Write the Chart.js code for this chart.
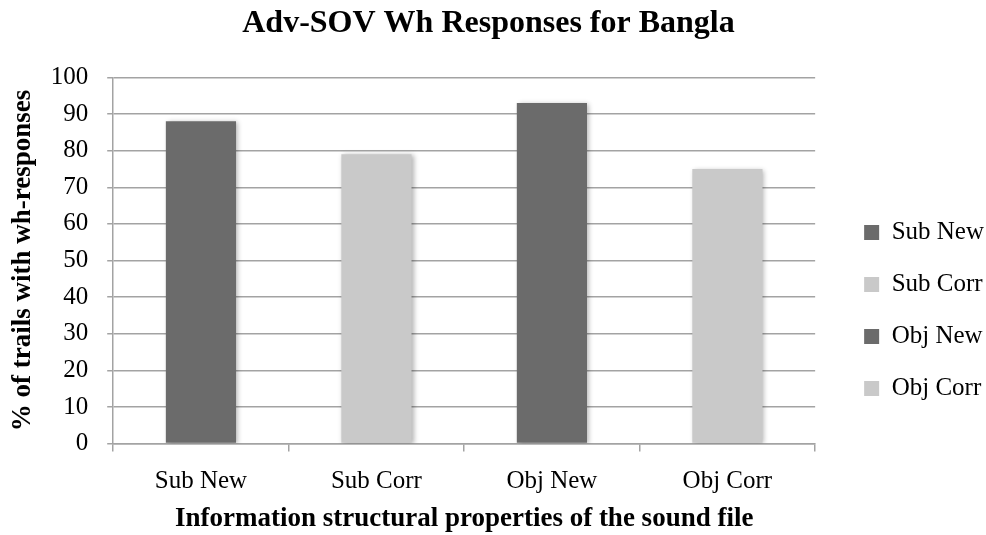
<!DOCTYPE html>
<html>
<head>
<meta charset="utf-8">
<script src="https://cdn.jsdelivr.net/npm/chart.js@4.4.1/dist/chart.umd.min.js"></script>
<style>
  html, body { margin: 0; padding: 0; background: #fff; }
  #wrap { width: 986px; height: 535px; }
</style>
</head>
<body>
<div id="wrap"><canvas id="myChart"></canvas></div>
<script>
var categories = ['Sub New', 'Sub Corr', 'Obj New', 'Obj Corr'];
var responses = [88, 79, 93, 75];
var yTicks = [0, 10, 20, 30, 40, 50, 60, 70, 80, 90, 100];

var barColors = ['#6b6b6b', '#c9c9c9', '#6b6b6b', '#c9c9c9'];
var gridColor = '#a3a3a3';
var serif = 'Liberation Serif';

// soft shadow under the bars, like the office chart
var barShadow = {
    id: 'barShadow',
    beforeDatasetsDraw: function (chart) {
        var c = chart.ctx;
        c.save();
        c.shadowColor = 'rgba(0,0,0,0.3)';
        c.shadowBlur = 5;
        c.shadowOffsetX = 2;
        c.shadowOffsetY = 1;
    },
    afterDatasetsDraw: function (chart) {
        chart.ctx.restore();
    }
};

// move the legend a bit right of the plot and lower
var legendPlace = {
    id: 'legendPlace',
    afterLayout: function (chart) {
        var lg = chart.legend;
        var area = chart.chartArea;
        var w = lg.width;
        lg.left = area.right + 22;
        lg.right = lg.left + w;
        lg.top = area.top + 50;
        lg.bottom = area.bottom + 50;
    }
};

// tick padding is counted twice by the scale fit, only keep it once
function singlePadX(scale) { scale.height -= scale.options.ticks.padding; }
function singlePadY(scale) { scale.width -= scale.options.ticks.padding; }

var ctx = document.getElementById('myChart');

var myChart = new Chart(ctx, {
    type: 'bar',
    data: {
        labels: categories,
        datasets: [{
            label: 'Adv-SOV Wh Responses for Bangla',
            data: responses,
            backgroundColor: barColors,
            borderWidth: 0,
            barPercentage: 0.4,
            categoryPercentage: 1.0
        }]
    },
    plugins: [barShadow, legendPlace],
    options: {
        responsive: true,
        maintainAspectRatio: false,
        animation: false,
        layout: { padding: { left: 5, right: 14, top: 0, bottom: 0 } },
        plugins: {
            tooltip: { enabled: false },
            title: {
                display: true,
                text: 'Adv-SOV Wh Responses for Bangla',
                color: '#000',
                font: { family: serif, size: 32, weight: 'bold' },
                padding: { top: 5, bottom: 34 }
            },
            legend: {
                display: true,
                position: 'right',
                labels: {
                    color: '#000',
                    font: { family: serif, size: 25 },
                    boxWidth: 15,
                    boxHeight: 15,
                    padding: 27,
                    generateLabels: function () {
                        return categories.map(function (c, i) {
                            return {
                                text: c,
                                fillStyle: barColors[i],
                                strokeStyle: barColors[i],
                                lineWidth: 0,
                                hidden: false,
                                index: i,
                                datasetIndex: 0,
                                fontColor: '#000'
                            };
                        });
                    }
                }
            }
        },
        scales: {
            x: {
                offset: true,
                afterFit: singlePadX,
                grid: {
                    display: true,
                    drawOnChartArea: false,
                    drawTicks: true,
                    tickLength: 8,
                    color: gridColor,
                    lineWidth: 1.5,
                    offset: true
                },
                border: { display: true, color: gridColor, width: 1.5 },
                ticks: {
                    color: '#000',
                    font: { family: serif, size: 25 },
                    padding: 15
                },
                title: {
                    display: true,
                    text: 'Information structural properties of the sound file',
                    color: '#000',
                    font: { family: serif, size: 27, weight: 'bold' },
                    padding: { top: 6, bottom: 0 }
                }
            },
            y: {
                min: 0,
                max: 100,
                afterFit: singlePadY,
                afterBuildTicks: function (scale) {
                    scale.ticks = yTicks.map(function (v) { return { value: v }; });
                },
                grid: {
                    color: gridColor,
                    lineWidth: 1.5,
                    drawTicks: true,
                    tickLength: 6
                },
                border: { display: true, color: gridColor, width: 1.5 },
                ticks: {
                    color: '#000',
                    font: { family: serif, size: 25 },
                    padding: 19
                },
                title: {
                    display: true,
                    text: '% of trails with wh-responses',
                    color: '#000',
                    font: { family: serif, size: 27, weight: 'bold', lineHeight: 1.1 },
                    padding: { top: 3, bottom: 13 }
                }
            }
        }
    }
});
</script>
</body>
</html>
